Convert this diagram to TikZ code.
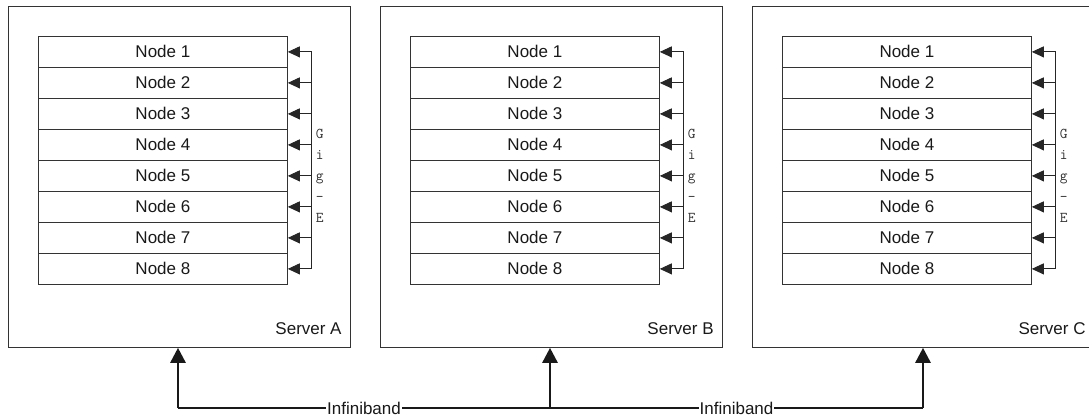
\documentclass[tikz,border=0pt]{standalone}
\usepackage{fontspec}
\setmainfont{Liberation Sans}
\usetikzlibrary{arrows.meta,calc}
\begin{document}
\begin{tikzpicture}[x=1pt,y=-1pt,
  server/.style={draw=black!80,line width=0.8pt,minimum width=342pt,minimum height=341pt,anchor=north west,inner sep=0pt},
  nodebox/.style={draw=black!80,line width=0.8pt,minimum width=249pt,minimum height=31pt,inner sep=0pt,anchor=north west,font=\fontsize{17}{18}\selectfont,text=black!90},
  busline/.style={line width=0.9pt,draw=black!85},
  busarrow/.style={line width=0.9pt,draw=black!85,-{Triangle[length=12pt,width=11pt]}},
  ibline/.style={line width=2.6pt,draw=black!90},
  ibarrow/.style={line width=2.6pt,draw=black!90,-{Triangle[length=15pt,width=15pt]}},
  lbl/.style={font=\fontsize{17}{18}\selectfont,text=black!90,inner sep=0pt},
  gige/.style={font=\ttfamily\fontsize{15}{21}\selectfont,text=black!80,align=center,inner sep=0pt,anchor=north}
]
\useasboundingbox (0,0) rectangle (1089,420);
\foreach \s/\x in {A/8,B/380,C/752}{
  \node[server] (S\s) at (\x,6) {};
  \node[lbl,anchor=south east] (L\s) at ([xshift=-9pt,yshift=13pt]S\s.south east) {Server \s};
  \foreach \i in {1,...,8}{
    \node[nodebox] (\s\i) at (\x+30,{36+31*(\i-1)}) {Node \i};
    \coordinate (B\s\i) at ([xshift=24pt]\s\i.east);
    \draw[busarrow] (B\s\i) -- (\s\i.east);
  }
  \draw[busline] (B\s1) -- (B\s8);
  \node[gige] (G\s) at ([xshift=8pt,yshift=16pt]B\s4) {G\\i\\g\\-\\E};
}
\coordinate (IA) at (178,408);
\coordinate (IB) at (550,408);
\coordinate (IC) at (923,408);
\draw[ibline] (IA) -- (IB) -- (IC);
\node[lbl,fill=white,inner xsep=1pt] (I1) at ($(IA)!0.5!(IB)$) {Infiniband};
\node[lbl,fill=white,inner xsep=1pt] (I2) at ($(IB)!0.5!(IC)$) {Infiniband};
\draw[ibarrow] (IA) -- (IA |- SA.south);
\draw[ibarrow] (IB) -- (IB |- SB.south);
\draw[ibarrow] (IC) -- (IC |- SC.south);
\end{tikzpicture}
\end{document}
